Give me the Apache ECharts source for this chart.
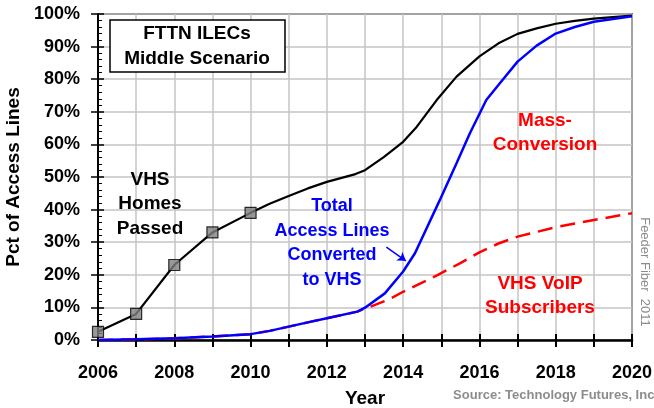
<!DOCTYPE html>
<html>
<head>
<meta charset="utf-8">
<script src="https://cdn.jsdelivr.net/npm/echarts@6/dist/echarts.min.js"></script>
</head>
<body style="margin:0">
<div id="main" style="width:654px;height:408px"></div>
<script>
// [year, percent]
var homesPassed = [
  [2006, 2.5], [2007, 8], [2008, 23], [2009, 33], [2010, 39],
  [2010.5, 41.8], [2011, 44.2], [2011.5, 46.5], [2012, 48.5], [2012.75, 50.9],
  [2013, 52.1], [2013.5, 56.2], [2014, 60.8], [2014.33, 65], [2014.88, 73.6],
  [2015.4, 80.8], [2016, 87], [2016.5, 91], [2017, 93.9], [2017.5, 95.6],
  [2018, 97], [2018.5, 97.9], [2019, 98.6], [2020, 99.5]
];
var homesMarkers = homesPassed.slice(0, 5);
var linesConverted = [
  [2006, 0], [2007, 0.2], [2008, 0.5], [2009, 1.1], [2010, 1.8],
  [2010.5, 2.8], [2011, 4.1], [2011.5, 5.4], [2012, 6.7], [2012.8, 8.7],
  [2013, 9.9], [2013.52, 14.3], [2014, 21], [2014.31, 26.6], [2014.96, 42.9],
  [2015.4, 54.2], [2015.75, 63.4], [2016.18, 73.6], [2016.53, 78.7], [2017, 85.4],
  [2017.5, 90.3], [2018, 94], [2018.5, 96], [2019, 97.6], [2020, 99.3]
];
var voipSubs = [
  [2006, 0], [2007, 0.2], [2008, 0.5], [2009, 1.1], [2010, 1.8],
  [2010.5, 2.8], [2011, 4.1], [2011.5, 5.4], [2012, 6.7], [2012.8, 8.7],
  [2013.6, 12.3], [2014, 14.8], [2014.9, 19.9], [2015.5, 23.6], [2016, 26.9],
  [2016.5, 29.6], [2017, 31.7], [2018, 34.6], [2019, 36.8], [2020, 38.9]
];
var arrowFrom = [2013.56, 28.5];
var arrowTo = [2014.07, 24.3];

var FONT = 'Arial, "Liberation Sans", sans-serif';
var chart = echarts.init(document.getElementById('main'), null, { renderer: 'canvas' });

var boldText = function (txt, x, y, color, size) {
  return {
    type: 'text', x: x, y: y, z: 100,
    style: { text: txt, fill: color, font: 'bold ' + size + 'px ' + FONT, align: 'center', verticalAlign: 'middle', lineHeight: 24.5 }
  };
};

chart.setOption({
  animation: false,
  backgroundColor: '#fff',
  textStyle: { fontFamily: FONT },
  grid: {
    left: 98, right: 22, top: 14, bottom: 68, outerBoundsMode: 'none', containLabel: false,
    show: true, borderColor: '#000', borderWidth: 1.5
  },
  xAxis: [{
    type: 'value', min: 2006, max: 2020, interval: 1,
    name: 'Year', nameLocation: 'middle', nameGap: 49,
    nameTextStyle: { color: '#000', fontWeight: 'bold', fontSize: 19 },
    axisLine: { lineStyle: { color: '#000', width: 2.5 } },
    axisTick: { length: 7, lineStyle: { color: '#000', width: 2 } },
    axisLabel: {
      margin: 24, color: '#000', fontWeight: 'bold', fontSize: 18,
      formatter: function (v) { return v % 2 === 0 ? String(v) : ''; }
    },
    splitLine: { lineStyle: { color: '#c4c4c4', width: 1.5 } }
  }, {
    type: 'value', min: 2006, max: 2020, interval: 1, position: 'bottom',
    axisLine: { show: false },
    axisTick: { inside: true, length: 6, lineStyle: { color: '#000', width: 2 } },
    axisLabel: { show: false }, splitLine: { show: false }
  }],
  yAxis: [{
    type: 'value', min: 0, max: 100, interval: 10,
    name: 'Pct of Access Lines', nameLocation: 'middle', nameGap: 57,
    nameTextStyle: { color: '#000', fontWeight: 'bold', fontSize: 19 },
    axisLine: { show: true, lineStyle: { color: '#000', width: 2 } },
    axisTick: { show: true, length: 7, lineStyle: { color: '#000', width: 1.5 } },
    axisLabel: { margin: 18, color: '#000', fontWeight: 'bold', fontSize: 18, formatter: '{value}%' },
    splitLine: { lineStyle: { color: '#c4c4c4', width: 1.5 } }
  }, {
    type: 'value', min: 0, max: 100, interval: 10, position: 'left',
    axisLine: { show: false },
    axisTick: { show: true, inside: true, length: 6, lineStyle: { color: '#000', width: 1.5 } },
    minorTick: { show: true, splitNumber: 5, length: 4, lineStyle: { color: '#000', width: 1 } },
    axisLabel: { show: false }, splitLine: { show: false }
  }],
  series: [{
    name: 'VHS VoIP Subscribers', type: 'line', data: voipSubs,
    showSymbol: false, z: 3,
    lineStyle: { color: '#ff0000', width: 2.5, type: [15, 8] }
  }, {
    name: 'VHS Homes Passed', type: 'line', data: homesPassed,
    showSymbol: false, z: 4,
    lineStyle: { color: '#000', width: 2.2 }
  }, {
    name: 'markers', type: 'scatter', data: homesMarkers, symbol: 'rect', symbolSize: 11, z: 5,
    itemStyle: { color: '#808080', borderColor: '#000', borderWidth: 1.2 }
  }, {
    name: 'Total Access Lines Converted to VHS', type: 'line', data: linesConverted,
    showSymbol: false, z: 6,
    lineStyle: { color: '#0000ff', width: 2.5 },
    markLine: {
      silent: true, animation: false,
      symbol: ['none', 'arrow'], symbolSize: 8,
      label: { show: false },
      lineStyle: { color: '#0000ff', width: 1.5, type: 'solid' },
      data: [[{ coord: arrowFrom }, { coord: arrowTo }]]
    }
  }],
  graphic: [
    { type: 'rect', z: 90, shape: { x: 110, y: 20, width: 175, height: 52 },
      style: { fill: '#fff', stroke: '#000', lineWidth: 1.5 } },
    boldText('FTTN ILECs', 197, 34, '#000', 19),
    boldText('Middle Scenario', 197, 59, '#000', 19),
    boldText('VHS\nHomes\nPassed', 150, 204, '#000', 19),
    boldText('Total\nAccess Lines\nConverted\nto VHS', 332, 243, '#0000ff', 18),
    boldText('Mass-\nConversion', 545, 133, '#ff0000', 19),
    boldText('VHS VoIP\nSubscribers', 540, 296, '#ff0000', 19),
    { type: 'text', x: 645, y: 272, rotation: -Math.PI / 2, z: 100,
      style: { text: 'Feeder Fiber  2011', fill: '#8c8c8c', font: '13px ' + FONT, align: 'center', verticalAlign: 'middle' } },
    { type: 'text', x: 658, y: 395, z: 100,
      style: { text: 'Source: Technology Futures, Inc.', fill: '#8c8c8c', font: 'bold 13px ' + FONT, align: 'right', verticalAlign: 'middle' } }
  ]
});
</script>
</body>
</html>
